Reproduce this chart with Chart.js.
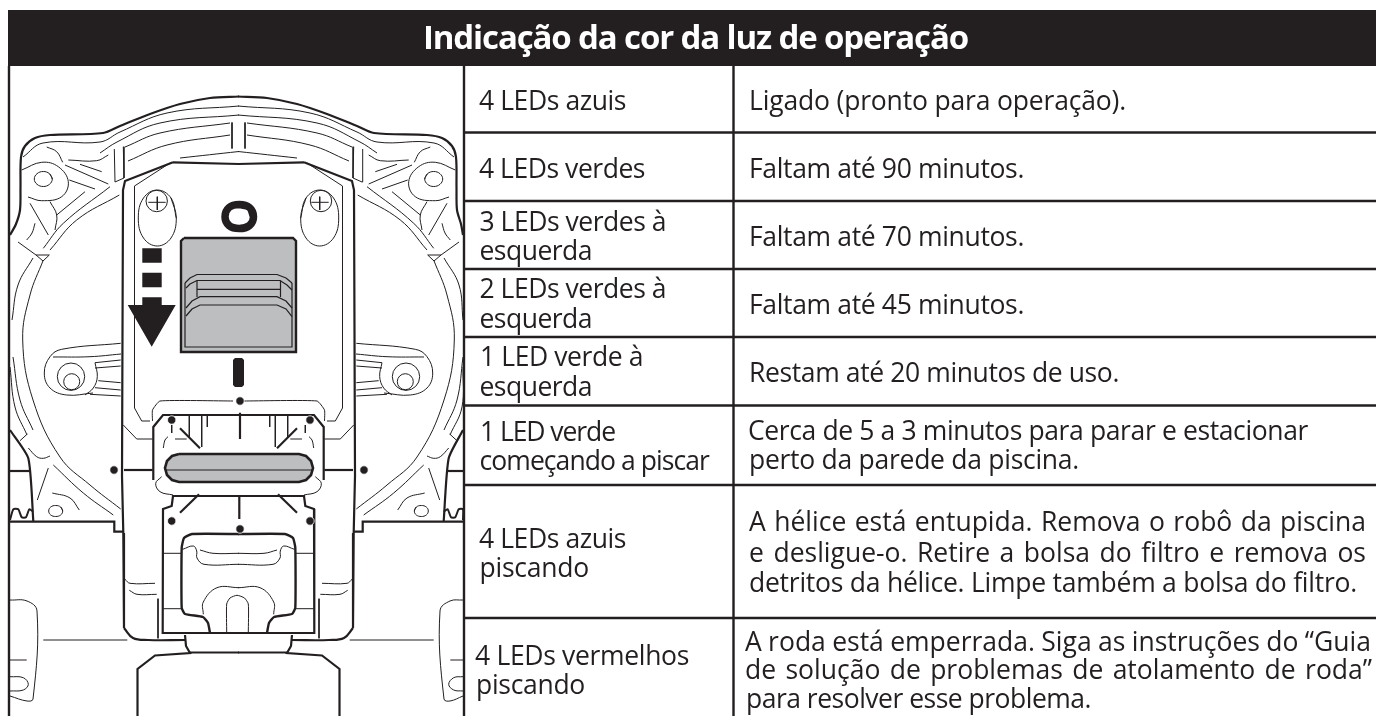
<!DOCTYPE html>
<html>
<head>
<meta charset="utf-8">
<title>Indicação da cor da luz de operação</title>
<script src="https://cdn.jsdelivr.net/npm/chart.js@4/dist/chart.umd.min.js"></script>
<style>
  html, body { margin: 0; padding: 0; background: #fff; }
  #wrap { width: 1376px; height: 716px; }
</style>
</head>
<body>
<div id="wrap"><canvas id="myChart" width="1376" height="716"></canvas></div>
<script>
const titleText = "Indicação da cor da luz de operação";

const ledLines = [
  "4 LEDs azuis", "4 LEDs verdes",
  "3 LEDs verdes à", "esquerda",
  "2 LEDs verdes à", "esquerda",
  "1 LED verde à", "esquerda",
  "1 LED verde", "começando a piscar",
  "4 LEDs azuis", "piscando",
  "4 LEDs vermelhos", "piscando",
];
const statusLines = [
  "Ligado (pronto para operação).",
  "Faltam até 90 minutos.",
  "Faltam até 70 minutos.",
  "Faltam até 45 minutos.",
  "Restam até 20 minutos de uso.",
  "Cerca de 5 a 3 minutos para parar e estacionar",
  "perto da parede da piscina.",
  "A hélice está entupida. Remova o robô da piscina",
  "e desligue-o. Retire a bolsa do filtro e remova os",
  "detritos da hélice. Limpe também a bolsa do filtro.",
  "A roda está emperrada. Siga as instruções do “Guia",
  "de solução de problemas de atolamento de roda”",
  "para resolver esse problema.",
];

// left, right, baseline, justified
const ledPlace = [
  [479, 626, 110], [479, 645, 178],
  [479.5, 666, 231], [479.5, 592, 260],
  [479.5, 666, 298], [479.5, 592, 328],
  [480, 643, 366], [479.5, 592, 396],
  [480, 615, 441], [479.5, 709, 470],
  [479, 626, 548], [479.5, 589, 577],
  [475, 689, 665], [476, 585, 694],
];
const statusPlace = [
  [749, 1126, 110], [749, 1024, 178], [749, 1024, 246], [749, 1024, 314],
  [749, 1119, 382], [748, 1308, 440], [749, 1079, 469],
  [749, 1366, 531, 1], [749, 1366, 562, 1], [749, 1357, 592],
  [745, 1371, 651, 1], [745, 1372, 679, 1], [746, 1091, 708],
];

const ink = "#231f20";
const grey = "#bcbec0";

// table frame
const titleBand = [[8, 10], [1376, 10], [1376, 66], [8, 66], [8, 10]];
const rowEdges = [132.5, 201, 269, 337, 405.5, 485, 618];
const colEdges = [9, 464, 733.5];

// left half of the robot, the right half is mirrored from it
const outerTop = [[239, 96.5], [210, 98], [180, 104], [150, 114], [120, 126], [103, 133], [50, 135], [35, 138], [25, 146], [21, 157], [20.5, 187], [20, 210], [16, 224], [10, 235]];
const arcA = [[23, 157], [43, 143], [100, 142], [120, 132], [167, 113], [239, 106]];
const arcB = [[100, 153], [117, 142], [160, 123], [239, 115]];
const arcC = [[125, 147], [160, 133], [230, 123]];
const arcD = [[128, 161], [167, 145], [230, 135]];
const arcE = [[180, 158], [239, 151.5]];
const ribMid = [[232, 122.5], [232, 148.5]];
const ribSide = [[123.3, 146.7], [124, 178], [115, 182], [114.3, 149]];
const knobLoop = [[21.7, 170], [41.7, 162.3], [58.3, 166.7], [68.3, 181.7], [61.7, 196.7], [41.7, 200.7], [28, 197]];
const knobOval = [[52.3, 179], [49.5, 173.7], [43.3, 171.5], [37, 173.7], [34.3, 179], [37, 184.3], [43.3, 186.5], [49.5, 184.3], [52.3, 179], [49.5, 173.7]];
const knobArc = [[46.7, 147], [56.7, 151.7], [62.7, 162.3]];
const strut1 = [[68.3, 160], [96.7, 160.7], [108.3, 155]];
const strut2 = [[80, 164.3], [101.7, 171.7]];
const strut3 = [[65, 165], [108.3, 184]];
const strut4 = [[69.3, 180], [95, 189]];
const strut5 = [[50, 201.7], [56.7, 215], [55, 230]];
const strut6 = [[56.7, 215], [85, 191.7]];
const strut7 = [[30, 203.3], [48.3, 235]];
const ringA = [[43.3, 248.3], [63.3, 223.3], [110, 186.7]];
const ringB = [[50, 250], [76.7, 220], [119.3, 195]];
const ringC = [[35, 223.3], [32, 233], [26.7, 240]];
const notch = [[18, 242], [36, 255], [49.3, 255], [43, 261], [36, 255]];
const bigArc = [[43.3, 260], [30, 295], [22.7, 340], [33, 400], [60, 457], [90, 485], [120.7, 509]];
const bigArc2 = [[33, 258], [18, 285], [12, 320]];
const bigArc3 = [[13, 357], [20, 400], [33, 430]];
const bigArc4 = [[10, 367], [15, 407], [27, 435]];
const lowerRib1 = [[28.3, 448], [36.7, 456.7], [43.3, 458.3], [50, 456]];
const lowerRib2 = [[48.3, 468], [37.3, 500]];
const lowerRib3 = [[20, 440.7], [27.3, 434]];
const lowerRib4 = [[52.3, 493], [70, 498], [79.3, 510]];
const lowerRib5 = [[53.3, 465], [83.3, 493], [113.3, 515]];
const lowerOval = [[62.7, 511], [60.7, 507], [55.7, 505.5], [50.7, 507], [48.7, 511], [50.7, 515], [55.7, 516.5], [60.7, 515], [62.7, 511], [60.7, 507]];
const sideThick = [[10, 430], [28.3, 458.3], [33.3, 521]];
const sideShelf = [[10, 471], [30, 471]];
const squiggle = [[10, 520], [13.3, 509.3], [18.3, 509.3], [21.7, 517.3], [26, 517.3], [29.3, 509.3], [33.3, 511.7]];
const footLine = [[10, 521.7], [114.3, 521.7], [114.3, 531.7], [123, 531.7]];
const hingeLoop = [[120.7, 343.3], [61.7, 349.3], [50, 356.7], [44.3, 373], [50, 388], [66.7, 395], [93, 393]];
const hinge1 = [[53, 357], [90, 356.7], [121, 354]];
const hinge2 = [[95, 362.7], [120.7, 360]];
const hinge3 = [[95, 368], [120.7, 366]];
const hinge4 = [[95, 362.7], [97.3, 376.7], [93.3, 388], [85, 395]];
const hinge5 = [[98.3, 380.7], [120.7, 382.7]];
const hinge6 = [[95, 387.7], [120.7, 390]];
const hinge7 = [[90, 394.3], [120.7, 396]];
const wallA = [[173, 162.3], [125, 181], [123, 190], [122, 476], [123.3, 533], [124, 628]];
const wallCorner = [[124, 628], [133, 638], [148, 640], [185, 640]];
const neck = [[185, 635], [186, 646], [190, 653], [155, 655.5], [137.5, 669], [137.5, 716]];
const topPlate = [[173, 162.3], [239, 164]];
const neckLine = [[190, 652.5], [239, 652.5]];
const thinPlate = [[170, 163], [134.5, 186], [134.5, 408], [141.7, 421], [150, 421]];
const thinPlate2 = [[152.5, 421], [152.5, 410], [160, 401], [233, 401]];
const thinPlate3 = [[123.3, 425], [136.7, 439], [152.7, 439]];
const midFrame = [[153.3, 480], [153.3, 427], [163, 415], [239, 415]];
const tick1 = [[189.3, 416], [189.3, 437]];
const tick2 = [[201.7, 416], [201.7, 447]];
const tick3 = [[207.3, 416], [207.3, 427]];
const diagonalUp = [[180, 428.3], [200, 448.3]];
const sideBar = [[124, 470], [152.7, 470]];
const ghostPill = [[161.7, 476.7], [155.7, 483.3], [160, 491.7], [173, 495]];
const ghostArc = [[163.3, 448], [165, 440], [168, 436.7]];
const ghostDash1 = [[175, 439], [186.7, 439]];
const ghostDash2 = [[171.7, 425], [171.7, 433]];
const lowFrame = [[239, 496], [173, 496], [171.7, 506], [163, 509], [162.7, 633], [239, 633]];
const diagonalLow = [[199, 494.3], [180, 512.7]];
const boxSide = [[239, 534], [192, 534], [184, 538], [181.7, 547.7], [181.7, 607.7], [185, 614], [203, 617], [208, 623], [210, 633]];
const boxLine1 = [[163.3, 553.3], [181.7, 553.3]];
const boxLine2 = [[163.3, 608.7], [181.7, 608.7]];
const handle1 = [[182.7, 549.3], [193.3, 546], [196.7, 551], [197, 558], [204, 564.3], [239, 564.3]];
const handle2 = [[200, 550], [213, 553.3], [239, 553.3]];
const arch1 = [[203.3, 614.3], [203.3, 602], [217, 587.7], [239, 587.7]];
const side1 = [[125, 579.3], [130, 583.3], [155, 583.3]];
const side2 = [[129.3, 590.3], [137, 594.3], [156.7, 594.3]];
const side3 = [[158, 598.7], [158, 638.3]];
const wheelLine = [[43.3, 640], [127.3, 640]];
const wheel = [[10, 600], [27, 601], [37, 611], [33, 699], [27, 701], [10, 696]];
const wheelLine2 = [[10, 660], [26.7, 660]];
const wheelOval = [[10, 676.7], [23.3, 677.7], [28.3, 684.3], [23.3, 690], [10, 691]];
const screwOval = [[176.3, 218], [171, 198], [157.3, 190], [143.5, 198], [138.3, 218], [143.5, 238], [157.3, 246], [171, 238], [176.3, 218], [171, 198]];
const screwCross1 = [[148.3, 202.3], [165.7, 202.3]];
const screwCross2 = [[157.3, 196.7], [157.3, 210]];

// single centre pieces
const archInner = [[226.7, 632.7], [226.7, 604], [230, 598], [237, 595.3], [244.5, 598], [248.3, 604], [248.3, 632.7]];
const centreTick = [[240, 412.7], [240, 439]];
const centreTick2 = [[239.3, 496], [239.3, 519]];
const oRing = [[253.5, 216.7], [249.5, 207.5], [239.3, 204.5], [229, 207.5], [225, 216.7], [229, 225.5], [239.3, 228.5], [249.5, 225.5], [253.5, 216.7], [249.5, 207.5], [239.3, 204.5]];
const greyBox = [[184, 238], [293, 238], [296, 241], [296, 352], [181, 352], [181, 241], [184, 238]];
const greyInner = [[185, 283], [185, 347], [292, 347], [292, 283]];
const hump1 = [[185, 283], [190, 278], [197, 274.5], [277, 274.5], [286, 278], [292, 283]];
const hump2 = [[186, 288], [190, 284], [197, 280.5], [280, 280.5], [287, 285], [292, 290]];
const hump3 = [[186, 308], [192, 301], [200, 296.7], [277, 296.7], [286, 301], [292, 308]];
const hump4 = [[186, 316], [192, 309], [200, 305], [277, 305], [286, 309], [292, 316.7]];
const slot1 = [[197, 280.5], [197, 297]];
const slot2 = [[280.5, 280.5], [280.5, 297]];
const slot3 = [[197, 289.3], [280.5, 289.3]];
const pill = [[179, 454], [299, 454], [306, 456], [311, 461], [313, 468], [311, 475], [306, 480], [299, 482], [179, 482], [172, 480], [167, 475], [165, 468], [167, 461], [172, 456], [179, 454]];
const pillLine = [[165, 470], [313, 470]];
const square1 = [[142.3, 248.3], [161.7, 248.3], [161.7, 262.7], [142.3, 262.7], [142.3, 248.3]];
const square2 = [[142.3, 272.7], [161.7, 272.7], [161.7, 287.3], [142.3, 287.3], [142.3, 272.7]];
const arrow = [[142.3, 297.3], [161.7, 297.3], [161.7, 305], [175.7, 305], [151.7, 346.7], [127.7, 305], [142.3, 305], [142.3, 297.3]];
const slotBar = [[235, 358], [242, 358], [244, 360], [244, 385], [242, 387], [235, 387], [233, 385], [233, 360], [235, 358]];
const blackDots = [[171.7, 420], [310, 420], [240, 401], [171.7, 521], [310, 521], [240, 529], [114, 470], [364, 470]];
const screwHeads = [[156.7, 201], [321, 201]];
const hingeRings = [[71, 376.7], [406, 376.7]];
const hingeHoles = [[71.7, 381.7], [405.3, 381.7]];

const datasets = [];

function add(points, width, extra) {
  const i = datasets.length;
  datasets.push(Object.assign({
    data: points.map(p => ({ x: p[0], y: p[1] })),
    showLine: true,
    borderColor: ink,
    backgroundColor: "transparent",
    borderWidth: width,
    pointRadius: 0,
    tension: 0,
    order: -i,
  }, extra || {}));
}
// draw left part and its mirror image, the table edge cuts the right side off
function both(points, width, extra) {
  add(points, width, extra);
  add(points.map(p => [Math.min(477 - p[0], 463), p[1]]), width, extra);
}
const curve = { tension: 0.4 };
const solid = { fill: "shape", backgroundColor: ink };

[arcA, arcB, arcC, arcD, arcE, knobLoop, knobOval, knobArc, strut1, strut5, ringA, ringB, ringC,
  bigArc, bigArc2, bigArc3, bigArc4, lowerRib1, lowerRib4, lowerRib5, lowerOval, hingeLoop, hinge1, hinge4,
  ghostPill, ghostArc, handle1, handle2, arch1, side1, side2, wheel, wheelOval, screwOval]
  .forEach(p => both(p, 1, curve));
[ribMid, ribSide, strut2, strut3, strut4, strut6, strut7, notch, lowerRib2, lowerRib3,
  hinge2, hinge3, hinge5, hinge6, hinge7, thinPlate, thinPlate3, tick1, tick2, tick3,
  ghostDash1, ghostDash2, boxLine1, boxLine2, side3, wheelLine, wheelLine2, screwCross1, screwCross2]
  .forEach(p => both(p, 1));
both(thinPlate2, 1, { tension: 0.15 });
both(outerTop, 2.2, { tension: 0.3 });
both(wallA, 2.2);
both(wallCorner, 2.2, curve);
both(neck, 2.2);
both(topPlate, 2.2);
both(neckLine, 2.2);
both(midFrame, 2.2);
both(diagonalUp, 2.2);
both(sideBar, 2.2);
both(lowFrame, 2.2);
both(diagonalLow, 2.2);
both(boxSide, 2.4, { tension: 0.15 });
both(sideThick, 2.2, { tension: 0.2 });
both(sideShelf, 2.2);
both(squiggle, 2, { tension: 0.2 });
both(footLine, 2.2);
add(archInner, 1, { tension: 0.2 });
add(centreTick, 2.2);
add(centreTick2, 2.2);
add(oRing, 7.5, curve);
add(greyBox, 2.4, { fill: "shape", backgroundColor: grey });
[greyInner, hump1, hump2, hump3, hump4, slot1, slot2, slot3].forEach(p => add(p, 1.2));
add(pill, 2.6, { fill: "shape", backgroundColor: grey });
add(pillLine, 1);
add(square1, 0, solid);
add(square2, 0, solid);
add(arrow, 0, solid);
add(slotBar, 0, solid);
add(screwHeads, 1, { showLine: false, pointRadius: 10.7, pointBorderColor: ink, pointBackgroundColor: "transparent", pointBorderWidth: 1 });
add(hingeRings, 1, { showLine: false, pointRadius: 13.7, pointBorderColor: ink, pointBackgroundColor: "transparent", pointBorderWidth: 1 });
add(hingeHoles, 1, { showLine: false, pointRadius: 8, pointBorderColor: ink, pointBackgroundColor: "transparent", pointBorderWidth: 1 });
add(blackDots, 1, { showLine: false, pointRadius: 4.2, pointBorderColor: "#fff", pointBackgroundColor: ink, pointBorderWidth: 0.8 });

// table lines go on top of the drawing
add(titleBand, 0, solid);
rowEdges.forEach(y => add([[464, y], [1376, y]], 2.4));
colEdges.forEach(x => add([[x, 66], [x, 716]], 2.4));

const tableText = {
  id: "tableText",
  afterDatasetsDraw(chart) {
    const { ctx, scales } = chart;
    const put = (text, place, font, color) => {
      const left = scales.x.getPixelForValue(place[0]);
      const right = scales.x.getPixelForValue(place[1]);
      const base = scales.y.getPixelForValue(place[2]);
      ctx.font = font;
      ctx.fillStyle = color;
      ctx.letterSpacing = "0px";
      ctx.wordSpacing = "0px";
      const extra = right - left - ctx.measureText(text).width;
      if (place[3]) ctx.wordSpacing = extra / (text.split(" ").length - 1) + "px";
      else ctx.letterSpacing = extra / text.length + "px";
      ctx.fillText(text, left, base);
    };
    ctx.save();
    ctx.textAlign = "left";
    ctx.textBaseline = "alphabetic";
    put(titleText, [423, 968, 49], "bold 33px 'Open Sans'", "#fff");
    ledLines.forEach((t, i) => put(t, ledPlace[i], "26.5px 'Open Sans'", ink));
    statusLines.forEach((t, i) => put(t, statusPlace[i], "26.5px 'Open Sans'", ink));
    ctx.restore();
  },
};

new Chart(document.getElementById("myChart"), {
  type: "scatter",
  data: { datasets: datasets },
  plugins: [tableText],
  options: {
    responsive: false,
    animation: false,
    events: [],
    layout: { padding: 0, autoPadding: false },
    scales: {
      x: { type: "linear", min: 0, max: 1376, display: false },
      y: { type: "linear", min: 0, max: 716, reverse: true, display: false },
    },
    plugins: {
      legend: { display: false },
      tooltip: { enabled: false },
      title: { display: false },
    },
  },
});
</script>
</body>
</html>
